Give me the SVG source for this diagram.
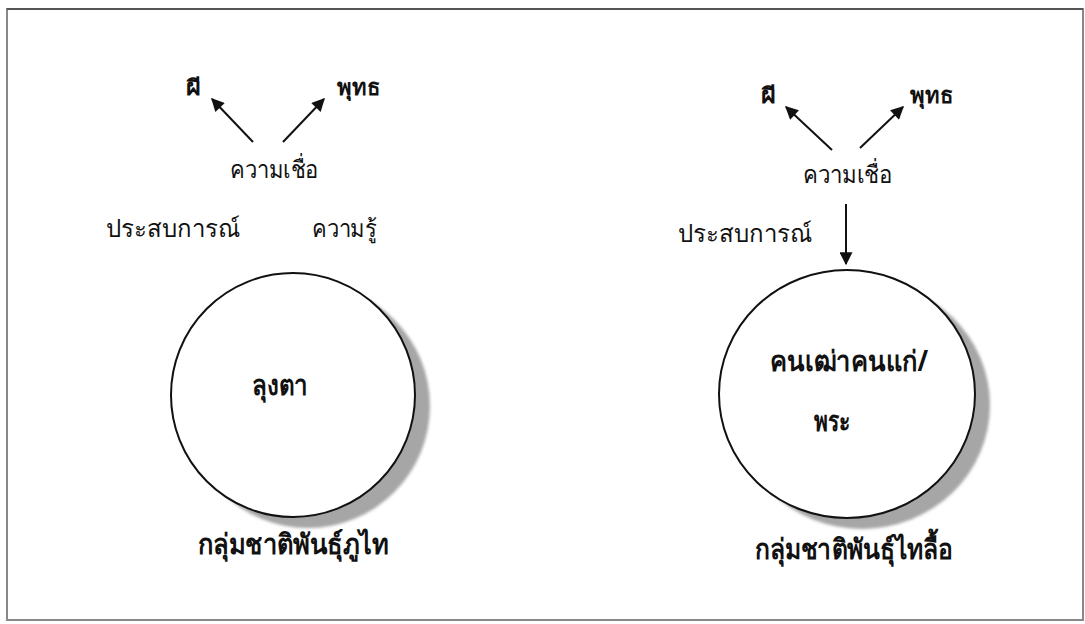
<svg xmlns="http://www.w3.org/2000/svg" width="1085" height="624" viewBox="0 0 1085 624">
<style>
.t{font-family:"Noto Sans","DejaVu Sans",sans-serif;font-size:24px;fill:#111}
.b{font-weight:bold}
.h{font-size:22px}
.n{font-size:28px}
.c{fill:#fff;stroke:#111;stroke-width:2}
.sh{fill:#a6a6a6}
.ar{stroke:#111;stroke-width:2;fill:none;marker-end:url(#ah)}
</style>
<defs>
<marker id="ah" viewBox="0 0 10 10" refX="9" refY="5" markerWidth="15" markerHeight="13" markerUnits="userSpaceOnUse" orient="auto"><path d="M0,0 L10,5 L0,10 z" fill="#111"/></marker>
<filter id="blur"><feGaussianBlur stdDeviation="1.5"/></filter>
</defs>
<rect x="7" y="9" width="1076" height="611" fill="#fff" stroke="#888" stroke-width="2"/>
<line x1="7" y1="9" x2="1083" y2="9" stroke="#555" stroke-width="2"/>
<g id="connectors">
<line class="ar" x1="253" y1="142" x2="212" y2="99"/>
<line class="ar" x1="283" y1="142" x2="324" y2="99"/>
<line class="ar" x1="832" y1="150" x2="786" y2="107"/>
<line class="ar" x1="860" y1="148" x2="903" y2="107"/>
<line class="ar" x1="846" y1="204" x2="846" y2="264"/>
</g>
<g id="left-beliefs">
<text class="t b h" x="186" y="95" textLength="15" lengthAdjust="spacingAndGlyphs">ผี</text>
<text class="t b h" x="337" y="95" textLength="43" lengthAdjust="spacingAndGlyphs">พุทธ</text>
<text class="t" x="230" y="178" textLength="88" lengthAdjust="spacingAndGlyphs">ความเชื่อ</text>
<text class="t" x="106" y="237" textLength="134" lengthAdjust="spacingAndGlyphs">ประสบการณ์</text>
<text class="t" x="312" y="237" textLength="65" lengthAdjust="spacingAndGlyphs">ความรู้</text>
</g>
<g id="left-node">
<circle class="sh" cx="308" cy="406" r="122" filter="url(#blur)"/>
<circle class="c" cx="293" cy="395" r="122"/>
<text class="t b n" x="252" y="395" textLength="56" lengthAdjust="spacingAndGlyphs">ลุงตา</text>
<text class="t b n" x="198" y="554" textLength="190" lengthAdjust="spacingAndGlyphs">กลุ่มชาติพันธุ์ภูไท</text>
</g>
<g id="right-beliefs">
<text class="t b h" x="761" y="103" textLength="15" lengthAdjust="spacingAndGlyphs">ผี</text>
<text class="t b h" x="910" y="103" textLength="43" lengthAdjust="spacingAndGlyphs">พุทธ</text>
<text class="t" x="803" y="183" textLength="89" lengthAdjust="spacingAndGlyphs">ความเชื่อ</text>
<text class="t" x="678" y="242" textLength="134" lengthAdjust="spacingAndGlyphs">ประสบการณ์</text>
</g>
<g id="right-node">
<ellipse class="sh" cx="862" cy="405" rx="128" ry="124" filter="url(#blur)"/>
<ellipse class="c" cx="847" cy="394" rx="128" ry="124"/>
<text class="t b n" x="770" y="371" textLength="158" lengthAdjust="spacingAndGlyphs">คนเฒ่าคนแก่/</text>
<text class="t b n" x="814" y="431" textLength="36" lengthAdjust="spacingAndGlyphs">พระ</text>
<text class="t b n" x="755" y="559" textLength="198" lengthAdjust="spacingAndGlyphs">กลุ่มชาติพันธุ์ไทลื้อ</text>
</g>
</svg>
